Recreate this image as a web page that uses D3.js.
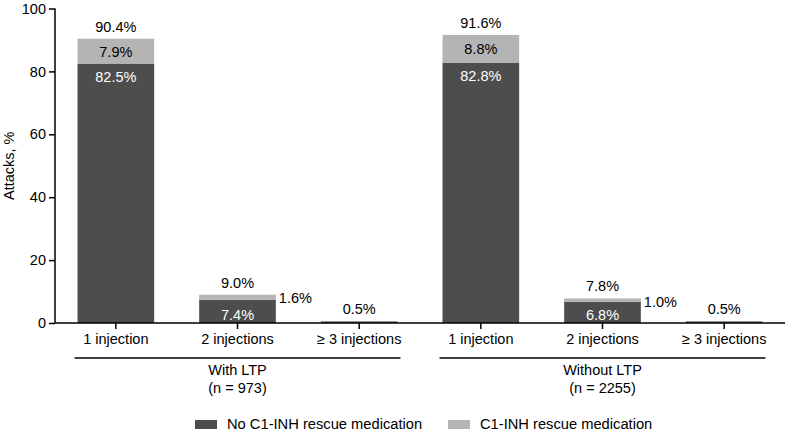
<!DOCTYPE html>
<html><head><meta charset="utf-8">
<script src="https://cdn.jsdelivr.net/npm/d3@7"></script>
<style>body{margin:0;background:#fff}svg{display:block;font-family:"Liberation Sans",Arial,sans-serif}</style>
</head><body><svg id="c" width="795" height="433"></svg>
<script>
const groups = ["With LTP", "Without LTP"];
const groupN = ["(n = 973)", "(n = 2255)"];
const categories = ["1 injection", "2 injections", "\u2265 3 injections"];
const noRescue = [82.5, 7.4, 0.5, 82.8, 6.8, 0.5];
const rescue = [7.9, 1.6, 0, 8.8, 1.0, 0];
const totals = [90.4, 9.0, 0.5, 91.6, 7.8, 0.5];
const yTicks = [0, 20, 40, 60, 80, 100];
const seriesNames = ["No C1-INH rescue medication", "C1-INH rescue medication"];
const colors = ["#4d4d4d", "#b4b4b4"];

(function () {
const svg = d3.select("#c");
const FS = 14.5;
const mL = 55, mR = 785, mT = 8.5, mB = 323;
const keys = d3.range(6);
const x = d3.scaleBand().domain(keys).range([mL, mR]).paddingInner(0.37).paddingOuter(0.185);
const y = d3.scaleLinear().domain([0, 100]).range([mB, mT]);

// bars
const data = keys.map(i => ({i, a: noRescue[i], b: rescue[i]}));
const stack = d3.stack().keys(["a", "b"])(data);
svg.append("g").selectAll("g").data(stack).join("g")
  .attr("fill", (d, k) => colors[k])
  .selectAll("rect").data(d => d).join("rect")
  .attr("x", d => x(d.data.i)).attr("width", x.bandwidth())
  .attr("y", d => y(d[1])).attr("height", d => y(d[0]) - y(d[1]));

// axes
const yAxis = d3.axisLeft(y).tickValues(yTicks).tickSize(6).tickPadding(3);
const gy = svg.append("g").attr("transform", `translate(${mL},0)`).call(yAxis);
gy.select(".domain").attr("d", `M0,${mT}V${mB}`).attr("stroke-width", 1.5);
gy.selectAll("line").attr("stroke-width", 1.5);
gy.selectAll("text").attr("font-size", FS).attr("fill", "#000").attr("font-family", "Liberation Sans, Arial, sans-serif");

const xAxis = d3.axisBottom(x).tickSize(6).tickPadding(5).tickFormat(i => categories[i % 3]);
const gx = svg.append("g").attr("transform", `translate(0,${mB})`).call(xAxis);
gx.select(".domain").attr("d", `M${mL},0H${mR}`).attr("stroke-width", 1.5);
gx.selectAll("line").attr("stroke-width", 1.5);
gx.selectAll("text").attr("font-size", FS).attr("fill", "#000").attr("font-family", "Liberation Sans, Arial, sans-serif");

svg.append("text").attr("transform", `translate(14,${(mT + mB) / 2}) rotate(-90)`)
  .attr("text-anchor", "middle").attr("font-size", FS).text("Attacks, %");

// group labels
groups.forEach((g, gi) => {
  const x0 = x(gi * 3) - 3, x1 = x(gi * 3 + 2) + x.bandwidth() + 3;
  svg.append("line").attr("x1", x0).attr("x2", x1).attr("y1", 358).attr("y2", 358)
    .attr("stroke", "#000").attr("stroke-width", 1.5);
  const cx = x(gi * 3 + 1) + x.bandwidth() / 2;
  svg.append("text").attr("x", cx).attr("y", 375).attr("text-anchor", "middle").attr("font-size", FS).text(g);
  svg.append("text").attr("x", cx).attr("y", 393).attr("text-anchor", "middle").attr("font-size", FS).text(groupN[gi]);
});

// value labels
const fmt = v => v.toFixed(1) + "%";
keys.forEach(i => {
  const cx = x(i) + x.bandwidth() / 2;
  const t = totals[i];
  svg.append("text").attr("x", cx).attr("y", y(noRescue[i] + rescue[i]) - 7)
    .attr("text-anchor", "middle").attr("font-size", FS).text(fmt(t));
  if (rescue[i] > 0) {
    const h = y(noRescue[i]) - y(noRescue[i] + rescue[i]);
    if (h > 18) {
      svg.append("text").attr("x", cx).attr("y", (y(noRescue[i]) + y(noRescue[i] + rescue[i])) / 2 + 5.5)
        .attr("text-anchor", "middle").attr("font-size", FS).text(fmt(rescue[i]));
    } else {
      svg.append("text").attr("x", x(i) + x.bandwidth() + 3).attr("y", y(noRescue[i] + rescue[i]) + 8.5)
        .attr("font-size", FS).text(fmt(rescue[i]));
    }
  }
  if (noRescue[i] > 3) {
    const h = y(0) - y(noRescue[i]);
    const ty = h > 40 ? y(noRescue[i]) + 18.5 : y(0) - 3.5;
    svg.append("text").attr("x", cx).attr("y", ty).attr("text-anchor", "middle")
      .attr("font-size", FS).attr("fill", "#fff").text(fmt(noRescue[i]));
  }
});

// legend
const legX = [195, 448];
seriesNames.forEach((n, k) => {
  svg.append("rect").attr("x", legX[k]).attr("y", 420).attr("width", 22).attr("height", 9).attr("fill", colors[k]);
  svg.append("text").attr("x", legX[k] + 32).attr("y", 429).attr("font-size", 14.7).text(n);
});
})();
</script></body></html>
